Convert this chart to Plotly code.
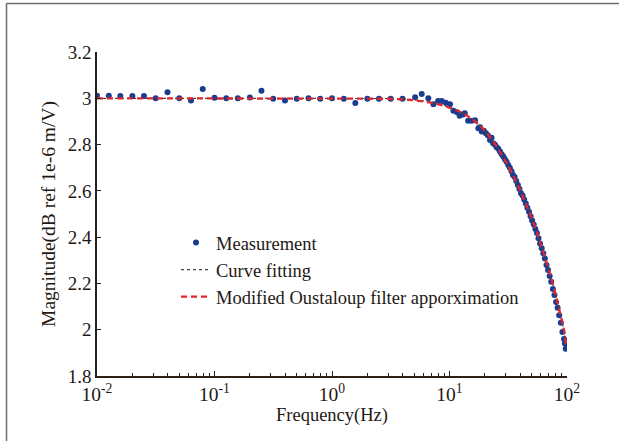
import plotly.graph_objects as go

# Measured magnitude response
meas_freq = [
    0.01, 0.0126, 0.0158, 0.02, 0.0251, 0.0316, 0.0398, 0.0501, 0.0631, 0.0794,
    0.1, 0.126, 0.158, 0.2, 0.251, 0.316, 0.398, 0.501, 0.631, 0.794,
    1.0, 1.26, 1.58, 2.0, 2.51, 3.16, 3.98,
    5.1, 5.8, 6.6, 7.3, 8.0, 8.6, 9.3, 10.1, 10.8, 11.6, 12.2, 13.0, 13.5,
    14.4, 15.4, 16.5, 17.6, 18.2, 18.8, 19.6, 20.4, 21.2, 22.1, 22.8, 23.5,
    24.3, 25.1, 26.0, 26.9, 27.8, 28.7, 29.6, 30.6, 31.6, 32.6, 33.7, 34.7,
    35.8, 37.0, 38.2, 39.4, 40.6, 41.9, 43.2, 44.6, 46.0, 47.5, 49.0, 50.5,
    52.1, 53.8, 55.5, 57.2, 59.0, 60.9, 62.8, 64.8, 66.9, 69.0, 71.2, 73.4,
    75.8, 78.2, 80.7, 83.2, 85.8, 88.6, 91.4, 94.3, 96.0, 97.5,
]
meas_mag = [
    3.011, 3.011, 3.010, 3.010, 3.010, 3.000, 3.026, 3.000, 2.990, 3.040,
    3.002, 3.000, 3.000, 3.003, 3.033, 2.998, 2.990, 2.998, 3.000, 2.998,
    3.000, 2.998, 2.980, 2.998, 2.998, 2.998, 2.998,
    3.004, 3.018, 3.000, 2.974, 2.988, 2.988, 2.981, 2.974, 2.946, 2.940, 2.925, 2.930, 2.935,
    2.903, 2.903, 2.905, 2.870, 2.875, 2.856, 2.860, 2.849, 2.840, 2.820, 2.830, 2.806,
    2.800, 2.790, 2.782, 2.770, 2.758, 2.748, 2.737, 2.726, 2.712, 2.700, 2.685, 2.668,
    2.660, 2.643, 2.625, 2.608, 2.590, 2.580, 2.563, 2.545, 2.527, 2.510, 2.490, 2.472,
    2.455, 2.435, 2.418, 2.395, 2.372, 2.352, 2.330, 2.308, 2.280, 2.258, 2.232, 2.207,
    2.176, 2.150, 2.120, 2.095, 2.062, 2.030, 1.990, 1.960, 1.940, 1.918,
]

# Fitted responses (curve fit and modified Oustaloup approximation)
fit_freq = [0.01, 0.1, 1.0, 3.0, 5.0, 7.0, 9.0, 10.0, 12.0, 14.0, 16.0, 18.0,
            20.0, 23.0, 26.0, 30.0, 35.0, 40.0, 45.0, 50.0, 55.0, 60.0, 65.0,
            70.0, 75.0, 80.0, 85.0, 90.0, 95.0, 98.0]
fit_mag = [3.0, 3.0, 3.0, 2.999, 2.994, 2.983, 2.970, 2.962, 2.945, 2.926, 2.905, 2.882,
           2.858, 2.820, 2.780, 2.728, 2.665, 2.603, 2.543, 2.484, 2.427, 2.370, 2.315,
           2.260, 2.207, 2.153, 2.100, 2.045, 1.990, 1.935]
oust_mag = [3.0, 3.0, 3.0, 2.998, 2.992, 2.981, 2.968, 2.960, 2.944, 2.926, 2.906, 2.884,
            2.860, 2.821, 2.781, 2.728, 2.665, 2.603, 2.543, 2.484, 2.427, 2.370, 2.315,
            2.260, 2.207, 2.153, 2.100, 2.045, 1.990, 1.930]

# Axis tick labels
x_tickvals = [0.01, 0.1, 1, 10, 100]
x_ticktext = ["10<sup>-2</sup>", "10<sup>-1</sup>", "10<sup>0</sup>", "10<sup>1</sup>", "10<sup>2</sup>"]
y_tickvals = [1.8, 2.0, 2.2, 2.4, 2.6, 2.8, 3.0, 3.2]
y_ticktext = ["1.8", "2", "2.2", "2.4", "2.6", "2.8", "3", "3.2"]

FONT = "Liberation Serif"
AXIS_COLOR = "#2b1f16"
TEXT_COLOR = "#231815"

fig = go.Figure()
fig.add_trace(go.Scatter(
    x=meas_freq, y=meas_mag, mode="markers", name="Measurement",
    marker=dict(color="#1c3d8f", size=6, line=dict(width=0)),
))
fig.add_trace(go.Scatter(
    x=fit_freq, y=fit_mag, mode="lines", name="Curve fitting",
    line=dict(color="#444444", width=1.2, dash="dot"),
))
fig.add_trace(go.Scatter(
    x=fit_freq, y=oust_mag, mode="lines", name="Modified Oustaloup filter apporximation",
    line=dict(color="#e3262c", width=2.3, dash="6px,4px"),
))

# Outer frame of the figure (left and top edges)
frame = dict(color="#6e6e6e", width=1.5)
x0p = (6.5 - 97) / 470
y0p = (376 - 3.5) / 324
fig.add_shape(type="line", xref="paper", yref="paper", x0=x0p, y0=y0p,
              x1=(619 - 97) / 470, y1=y0p, line=frame)
fig.add_shape(type="line", xref="paper", yref="paper", x0=x0p, y0=y0p,
              x1=x0p, y1=(376 - 441) / 324, line=frame)

fig.update_layout(
    width=619, height=441,
    margin=dict(l=97, r=52, t=52, b=65),
    paper_bgcolor="white", plot_bgcolor="white",
    font=dict(family=FONT, size=18, color=TEXT_COLOR),
    showlegend=True,
    legend=dict(
        x=(176 - 97) / 470, y=(376 - 224) / 324, xanchor="left", yanchor="top",
        bgcolor="rgba(0,0,0,0)", borderwidth=0,
        font=dict(family=FONT, size=18.5, color=TEXT_COLOR),
        tracegroupgap=0, itemwidth=30,
    ),
    xaxis=dict(
        type="log", range=[-2, 2], tickmode="array",
        tickvals=x_tickvals, ticktext=x_ticktext,
        showgrid=False, zeroline=False,
        showline=True, linecolor=AXIS_COLOR, linewidth=1.5,
        ticks="inside", ticklen=5, tickcolor=AXIS_COLOR,
        minor=dict(ticks="inside", ticklen=3, tickcolor=AXIS_COLOR, dtick="D1", showgrid=False),
        tickfont=dict(family=FONT, size=19.5, color=TEXT_COLOR),
        title=dict(text="Frequency(Hz)", font=dict(family=FONT, size=18.5, color=TEXT_COLOR), standoff=0),
    ),
    yaxis=dict(
        range=[1.8, 3.2], tickmode="array", tickvals=y_tickvals, ticktext=y_ticktext,
        showgrid=False, zeroline=False,
        showline=True, linecolor=AXIS_COLOR, linewidth=1.5,
        ticks="inside", ticklen=4, tickcolor=AXIS_COLOR,
        tickfont=dict(family=FONT, size=19, color=TEXT_COLOR),
        title=dict(text="Magnitude(dB ref 1e-6 m/V)", font=dict(family=FONT, size=19.5, color=TEXT_COLOR), standoff=7),
    ),
)

fig.write_html("out.html")
